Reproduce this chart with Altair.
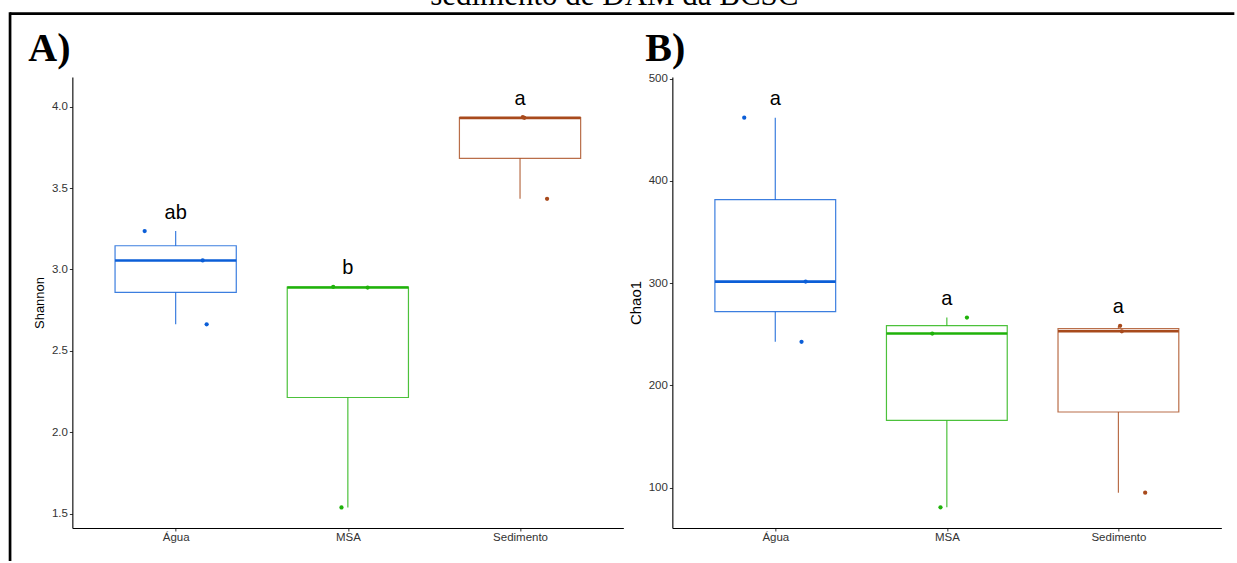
import altair as alt
import pandas as pd

# ---- data -------------------------------------------------------------
groups = ["Água", "MSA", "Sedimento"]
colors = ["#0b5ed7", "#1fb20a", "#a84a1c"]

shannon_agua = [3.236, 3.055, 2.663]
shannon_msa = [2.893, 2.889, 1.538]
shannon_sed = [3.935, 3.931, 3.434]
shannon_letters = ["ab", "b", "a"]

chao1_agua = [461.9, 301.6, 242.7]
chao1_msa = [266.4, 250.8, 80.8]
chao1_sed = [258.3, 253.0, 95.1]
chao1_letters = ["a", "a", "a"]

# horizontal jitter of each sample, in category widths
shannon_jitter = [[-0.180, 0.157, 0.180], [-0.085, 0.115, -0.037], [0.016, 0.025, 0.157]]
chao1_jitter = [[-0.181, 0.177, 0.153], [0.117, -0.085, -0.037], [0.010, 0.020, 0.156]]

shannon_ticks = [1.5, 2.0, 2.5, 3.0, 3.5, 4.0]
chao1_ticks = [100, 200, 300, 400, 500]

title_text = "sedimento de DAM da BCSC"

SANS = "Liberation Sans"
SERIF = "Liberation Serif"


def long_table(series, jitters, letters):
    rows = []
    for i, (g, vals, jit, let) in enumerate(zip(groups, series, jitters, letters)):
        for v, j in zip(vals, jit):
            rows.append({"group": g, "idx": i + 1, "value": v, "jitter": j, "letter": let})
    return pd.DataFrame(rows)


color = alt.Color("group:N", scale=alt.Scale(domain=groups, range=colors), legend=None)
x_scale = alt.Scale(domain=[0.4, 3.6], nice=False, zero=False)
label_list = "[''," + ",".join("'" + g + "'" for g in groups) + "]"
x_axis = alt.Axis(
    values=[1, 2, 3], labelExpr=label_list + "[datum.value]", title=None, grid=False,
    domainColor="black", domainWidth=1.1, tickColor="#333333", tickSize=3,
    labelColor="#333333", labelFontSize=11.5, labelPadding=1, labelFont=SANS,
)
no_frame = alt.ViewBackground(stroke=None, fill="white")


def panel(series, jitters, letters, ytitle, ydomain, yticks, yfmt, tag, tag_x, ytitle_size):
    df = long_table(series, jitters, letters)
    base = alt.Chart(df)
    y_scale = alt.Scale(domain=ydomain, nice=False, zero=False)
    y_axis = alt.Axis(
        values=yticks, format=yfmt, title=ytitle, grid=False,
        domainColor="black", domainWidth=1.1, tickColor="#333333", tickSize=3,
        labelColor="#333333", labelFontSize=11.5, labelPadding=2, labelFont=SANS,
        titleFont=SANS, titleFontSize=ytitle_size, titleFontWeight="normal",
        titleColor="black", titlePadding=5,
    )

    stats = base.transform_aggregate(
        q1="q1(value)", q3="q3(value)", med="median(value)",
        lo="min(value)", hi="max(value)",
        groupby=["group", "idx", "letter"],
    ).transform_calculate(left="datum.idx - 0.352", right="datum.idx + 0.352")

    whisker = stats.mark_rule(strokeWidth=1.2, opacity=0.8).encode(
        x=alt.X("idx:Q", scale=x_scale, axis=x_axis),
        y=alt.Y("lo:Q", scale=y_scale, axis=y_axis),
        y2="hi:Q",
        color=color,
    )
    box = stats.mark_bar(fill="white", strokeWidth=1.2, strokeOpacity=0.8).encode(
        x=alt.X("left:Q", scale=x_scale, axis=x_axis),
        x2="right:Q",
        y=alt.Y("q1:Q", scale=y_scale, axis=y_axis),
        y2="q3:Q",
        stroke=color,
    )
    median = stats.mark_rule(strokeWidth=2.6).encode(
        x=alt.X("left:Q", scale=x_scale, axis=x_axis),
        x2="right:Q",
        y=alt.Y("med:Q", scale=y_scale, axis=y_axis),
        color=color,
    )
    points = base.transform_calculate(xpos="datum.idx + datum.jitter").mark_circle(
        size=18, opacity=1
    ).encode(
        x=alt.X("xpos:Q", scale=x_scale, axis=x_axis),
        y=alt.Y("value:Q", scale=y_scale, axis=y_axis),
        color=color,
    )
    letters_layer = stats.mark_text(
        dy=-12.5, baseline="alphabetic", fontSize=20, font=SANS, color="black"
    ).encode(
        x=alt.X("idx:Q", scale=x_scale, axis=x_axis),
        y=alt.Y("hi:Q", scale=y_scale, axis=y_axis),
        text="letter:N",
    )
    tag_layer = alt.Chart(alt.Data(values=[{"tag": tag}])).mark_text(
        font=SERIF, fontSize=40, fontWeight="bold", align="left",
        baseline="alphabetic", color="black",
    ).encode(x=alt.value(tag_x), y=alt.value(-16), text="tag:N")

    return alt.layer(whisker, box, median, points, letters_layer, tag_layer)


panel_a = panel(
    [shannon_agua, shannon_msa, shannon_sed], shannon_jitter, shannon_letters,
    "Shannon", [1.412, 4.182], shannon_ticks, ".1f", "A)", -44, 13,
).properties(width=551, height=451, view=no_frame)

panel_b = panel(
    [chao1_agua, chao1_msa, chao1_sed], chao1_jitter, chao1_letters,
    "Chao1", [60.6, 501.7], chao1_ticks, "d", "B)", -27, 15,
).properties(width=549, height=451, view=no_frame)

# strip holding the (cropped) figure title and the frame lines
strip_text = alt.Chart(alt.Data(values=[{"t": title_text}])).mark_text(
    font=SERIF, fontSize=31, align="center", baseline="alphabetic",
    color="black", clip=True,
).encode(x=alt.value(542), y=alt.value(4.5), text="t:N")
frame_top = alt.Chart(alt.Data(values=[{"k": 1}])).mark_rule(
    strokeWidth=2.7, color="black"
).encode(x=alt.value(-62.3), x2=alt.value(1162), y=alt.value(13.7))
frame_left = alt.Chart(alt.Data(values=[{"k": 1}])).mark_rule(
    strokeWidth=2.7, color="black"
).encode(x=alt.value(-62.3), y=alt.value(12.35), y2=alt.value(561))
strip = alt.layer(strip_text, frame_top, frame_left).properties(
    width=1160, height=14, view=no_frame
)

body = alt.hconcat(panel_a, panel_b, spacing=49, bounds="flush")

chart = alt.vconcat(strip, body, spacing=63, bounds="flush").properties(
    padding={"left": 8.35, "top": 0, "right": 0, "bottom": 0},
    background="white",
).configure_view(stroke=None).configure(font=SANS)

chart.save("out.html", embed_options={"renderer": "svg", "actions": False})
